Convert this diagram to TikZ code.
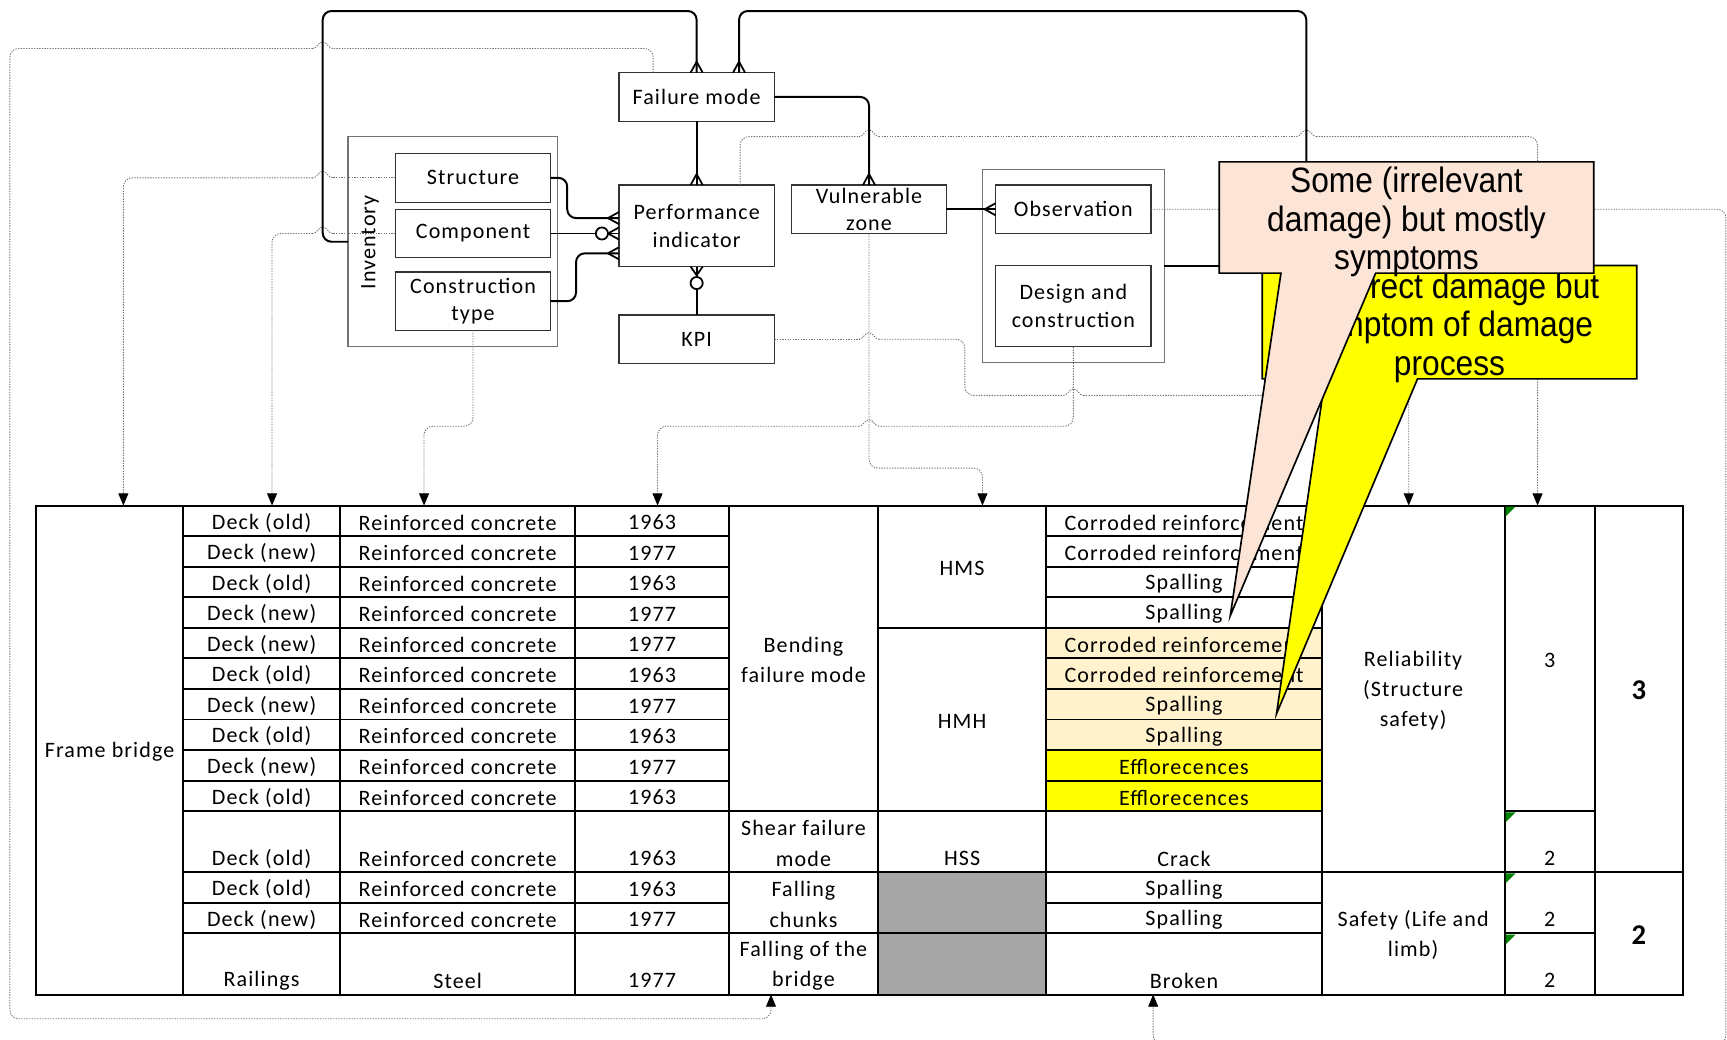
\documentclass[tikz,border=0pt]{standalone}
\usepackage{fontspec}
\setmainfont{Carlito}[LetterSpace=5]
\newfontfamily\notefont{Liberation Sans}[FakeStretch=0.9]
\usetikzlibrary{calc,arrows.meta}

\definecolor{cream}{HTML}{FFF2CC}
\definecolor{hiyel}{HTML}{FFFF00}
\definecolor{cellgray}{HTML}{A6A6A6}
\definecolor{peach}{HTML}{FCE4D6}
\definecolor{flaggreen}{HTML}{008000}
\definecolor{linkgray}{HTML}{707070}

\newcommand\tabfont{\fontsize{20}{27.5}\selectfont}
\newcommand\boxfont{\fontsize{20}{25}\selectfont}

\tikzset{
  every node/.style={inner sep=0pt, outer sep=0pt},
  ent/.style={draw=black!80, line width=1, fill=white, font=\boxfont, align=center,
              minimum width=141, minimum height=44},
  grp/.style={draw=black!55, line width=1, minimum width=#1},
  tcell/.style={draw=black, line width=1.8, fill=white},
  ttext/.style={font=\tabfont, align=center},
  conn/.style={draw=black, line width=1.8, rounded corners=8},
  link/.style={draw=linkgray, line width=0.8, dash pattern=on 1.2pt off 1.2pt, rounded corners=8},
  linkto/.style={link, -{Triangle[length=11pt,width=9pt,color=black]}},
  jump/.style={draw=linkgray, line width=0.8, dash pattern=on 1.2pt off 1.2pt},
  note/.style={font=\notefont\fontsize{32}{35}\selectfont, align=center},
  callout/.style={draw=black, line width=1.5},
  crowL/.pic={\draw[line width=1.6] (-10,0) -- (0,-5.5) (-10,0) -- (0,5.5);},
  crowT/.pic={\draw[line width=1.6] (0,-10) -- (-5.5,0) (0,-10) -- (5.5,0);},
  crowB/.pic={\draw[line width=1.6] (0,8) -- (-5.5,0) (0,8) -- (5.5,0);},
}

% table cell: [style]{name}{x1}{y1}{x2}{y2}{text}
\newcommand\cell[7][]{\node[tcell,#1,minimum width={(#5)-(#3)},minimum height={(#6)-(#4)}] (#2) at ({((#3)+(#5))/2},{((#4)+(#6))/2}) {};
  \node[ttext] (#2-t) at ($(#2.center)+(0,1.5)$) {#7};}
% same, text sitting on the bottom line of the cell
\newcommand\cellb[7][]{\node[tcell,#1,minimum width={(#5)-(#3)},minimum height={(#6)-(#4)}] (#2) at ({((#3)+(#5))/2},{((#4)+(#6))/2}) {};
  \node[ttext] (#2-t) at ($(#2.south)+(0,-12.5)$) {#7};}
% line jump over a crossing line, centred on x, running left or right
\newcommand\jumpR[2]{({#1-9},#2) .. controls ({#1-5},#2) and ({#1-4},{#2-6}) .. (#1,{#2-6}) .. controls ({#1+4},{#2-6}) and ({#1+5},#2) .. ({#1+9},#2)}
\newcommand\jumpL[2]{({#1+9},#2) .. controls ({#1+5},#2) and ({#1+4},{#2-6}) .. (#1,{#2-6}) .. controls ({#1-4},{#2-6}) and ({#1-5},#2) .. ({#1-9},#2)}

\begin{document}
\begin{tikzpicture}[x=1pt,y=-1pt]
\useasboundingbox (0,0) rectangle (1568,944);

% ---------------- table ----------------
\cell{frame}{33}{459}{166}{903}{Frame bridge}
\foreach \i/\dk/\yr in {1/old/1963,2/new/1977,3/old/1963,4/new/1977,5/new/1977,
                         6/old/1963,7/new/1977,8/old/1963,9/new/1977,10/old/1963}{
  \pgfmathsetmacro\ya{459+(\i-1)*27.75}
  \pgfmathsetmacro\yb{459+\i*27.75}
  \cell{dk\i}{166}{\ya}{309}{\yb}{Deck (\dk)}
  \cell{mt\i}{309}{\ya}{522}{\yb}{Reinforced concrete}
  \cell{yr\i}{522}{\ya}{662}{\yb}{\yr}
}
\foreach \i/\dm/\fc in {1/Corroded reinforcement/white,2/Corroded reinforcement/white,
                         3/Spalling/white,4/Spalling/white,
                         5/Corroded reinforcement/cream,6/Corroded reinforcement/cream,
                         7/Spalling/cream,8/Spalling/cream,
                         9/Efflorecences/hiyel,10/Efflorecences/hiyel}{
  \pgfmathsetmacro\ya{459+(\i-1)*27.75}
  \pgfmathsetmacro\yb{459+\i*27.75}
  \cell[fill=\fc]{dm\i}{950}{\ya}{1200}{\yb}{\dm}
}
% shear row
\cellb{dk11}{166}{736.5}{309}{792}{Deck (old)}
\cellb{mt11}{309}{736.5}{522}{792}{Reinforced concrete}
\cellb{yr11}{522}{736.5}{662}{792}{1963}
% falling chunks rows
\cell{dk12}{166}{792}{309}{819.75}{Deck (old)}
\cell{mt12}{309}{792}{522}{819.75}{Reinforced concrete}
\cell{yr12}{522}{792}{662}{819.75}{1963}
\cell{dk13}{166}{819.75}{309}{847.5}{Deck (new)}
\cell{mt13}{309}{819.75}{522}{847.5}{Reinforced concrete}
\cell{yr13}{522}{819.75}{662}{847.5}{1977}
% railings row
\cellb{dk14}{166}{847.5}{309}{903}{Railings}
\cellb{mt14}{309}{847.5}{522}{903}{Steel}
\cellb{yr14}{522}{847.5}{662}{903}{1977}
% failure modes
\cell{bfm}{662}{459}{797}{736.5}{Bending\\failure mode}
\cell{sfm}{662}{736.5}{797}{792}{Shear failure\\mode}
\cell{fch}{662}{792}{797}{847.5}{Falling\\chunks}
\cell{fob}{662}{847.5}{797}{903}{Falling of the\\bridge}
% zones
\cell{hms}{797}{459}{950}{570}{HMS}
\cell{hmh}{797}{570}{950}{736.5}{HMH}
\cellb{hss}{797}{736.5}{950}{792}{HSS}
\cell[fill=cellgray]{gz1}{797}{792}{950}{847.5}{}
\cell[fill=cellgray]{gz2}{797}{847.5}{950}{903}{}
% damages below the bending rows
\cellb{dm11}{950}{736.5}{1200}{792}{Crack}
\cell{dm12}{950}{792}{1200}{819.75}{Spalling}
\cell{dm13}{950}{819.75}{1200}{847.5}{Spalling}
\cellb{dm14}{950}{847.5}{1200}{903}{Broken}
% requirements
\cell{rel}{1200}{459}{1366}{792}{Reliability\\(Structure\\safety)}
\cell{saf}{1200}{792}{1366}{903}{Safety (Life and\\limb)}
% condition classes
\cell{sc1}{1366}{459}{1448}{736.5}{3}
\cellb{sc2}{1366}{736.5}{1448}{792}{2}
\cellb{sc3}{1366}{792}{1448}{847.5}{2}
\cellb{sc4}{1366}{847.5}{1448}{903}{2}
\cell{cls1}{1448}{459}{1528}{792}{\bfseries\fontsize{26}{30}\selectfont 3}
\cell{cls2}{1448}{792}{1528}{903}{\bfseries\fontsize{26}{30}\selectfont 2}
% cell flags
\foreach \y in {459,736.5,792,847.5}
  \fill[flaggreen] (1367,{\y+1}) -- (1376,{\y+1}) -- (1367,{\y+10}) -- cycle;

% ---------------- entity diagram ----------------
\node[grp=190, minimum height=191] (inv) at (411,219.5) {};
\node[grp=165, minimum height=175] (grp2) at (974.5,241.5) {};
\node[font=\boxfont, rotate=90] (invlabel) at (336,220) {Inventory};

\node[ent] (fm) at (632.5,88) {Failure mode};
\node[ent, minimum height=74] (pi) at (632.5,205) {Performance\\indicator};
\node[ent] (kpi) at (632.5,308) {KPI};
\node[ent, minimum height=45] (st) at (429.5,161.5) {Structure};
\node[ent] (comp) at (429.5,212) {Component};
\node[ent, minimum height=53] (ctype) at (429.5,273.5) {Construction\\type};
\node[ent, minimum width=140] (vz) at (789,190) {Vulnerable\\zone};
\node[ent] (obs) at (974.5,190) {Observation};
\node[ent, minimum height=74] (dc) at (974.5,278) {Design and\\construction};

% dotted links down to the table (with jumps where they cross other lines)
\draw[link] (593,0 |- fm.north) -- (593,44) -- (302,44);
\draw[jump] \jumpL{293}{44};
\draw[linkto] (284,44) -- (9,44) -- (9,925) -- (700,925) -- (700,0 |- fob.south);

\draw[link] (st.west) -- (302,161.5);
\draw[jump] \jumpL{293}{161.5};
\draw[linkto] (284,161.5) -- (112,161.5) -- (112,0 |- frame.north);

\draw[link] (comp.west) -- (302,212);
\draw[jump] \jumpL{293}{212};
\draw[linkto] (284,212) -- (247,212) -- (247,0 |- dk1.north);

\draw[linkto] (ctype.south) -- (429.5,387) -- (385,387) -- (385,0 |- mt1.north);

\draw[link] (kpi.east) -- (780,308);
\draw[jump] \jumpR{789}{308};
\draw[link] (798,308) -- (876,308) -- (876,359) -- (965.5,359);
\draw[jump] \jumpR{974.5}{359};
\draw[linkto] (983.5,359) -- (1279,359) -- (1279,0 |- rel.north);

\draw[link] (dc.south) -- (974.5,387) -- (798,387);
\draw[jump] \jumpL{789}{387};
\draw[linkto] (780,387) -- (597,387) -- (597,0 |- yr1.north);

\draw[linkto] (vz.south) -- (789,425) -- (892,425) -- (892,0 |- hms.north);

\draw[link] (672,0 |- pi.north) -- (672,124) -- (780,124);
\draw[jump] \jumpR{789}{124};
\draw[jump] (798,124) -- (1177,124);
\draw[jump] \jumpR{1186}{124};
\draw[linkto] (1195,124) -- (1396,124) -- (1396,0 |- sc1.north);

\begin{scope}
  \clip (0,0) rectangle (1568,944);
  \draw[linkto] (obs.east) -- (1567,190) -- (1567,948) -- (1047,948) -- (1047,0 |- dm14.south);
\end{scope}

% relationships
\draw[conn] (inv.west) -- (293,219.5) -- (293,10) -- (632.5,10) -- (632.5,0 |- fm.north);
\pic at (632.5,0 |- fm.north) {crowT};
\draw[conn] (fm.south) -- (pi.north);
\pic at (pi.north) {crowT};
\draw[conn] (fm.east) -- (789,88) -- (vz.north);
\pic at (vz.north) {crowT};
\draw[conn] (st.east) -- (515,161.5) -- (515,198) -- (pi.west |- 0,198);
\pic at (pi.west |- 0,198) {crowL};
\draw[conn] (comp.east) -- (pi.west |- comp.east);
\draw[line width=1.6, fill=white] (546.5,212) circle[radius=5.5pt];
\pic at (pi.west |- comp.east) {crowL};
\draw[conn] (ctype.east) -- (523,273.5) -- (523,230) -- (pi.west |- 0,230);
\pic at (pi.west |- 0,230) {crowL};
\draw[conn] (pi.south) -- (kpi.north);
\pic at (pi.south) {crowB};
\draw[line width=1.6, fill=white] (632.5,257) circle[radius=5.5pt];
\draw[conn] (vz.east) -- (obs.west);
\pic at (obs.west) {crowL};

% ---------------- callouts ----------------
\draw[callout, fill=hiyel] (1146,241) -- (1486,241) -- (1486,344) -- (1287,344) -- (1159,648) -- (1203,344) -- (1146,344) -- cycle;
\node[note, minimum width=340, minimum height=103] (ylwnote) at (1316,297.5) {Incorrect damage but\\symptom of damage\\process};
\draw[callout, fill=peach] (1107,147) -- (1447,147) -- (1447,248) -- (1249,248) -- (1117,559) -- (1163,248) -- (1107,248) -- cycle;
\node[note, minimum width=340, minimum height=101] (pinknote) at (1277,201.5) {Some (irrelevant\\damage) but mostly\\symptoms};

\draw[conn] (1186,147) -- (1186,10) -- (671,10) -- (671,0 |- fm.north);
\pic at (671,0 |- fm.north) {crowT};
\draw[conn] (grp2.east) -- (1107,0 |- grp2.east);
\end{tikzpicture}
\end{document}
